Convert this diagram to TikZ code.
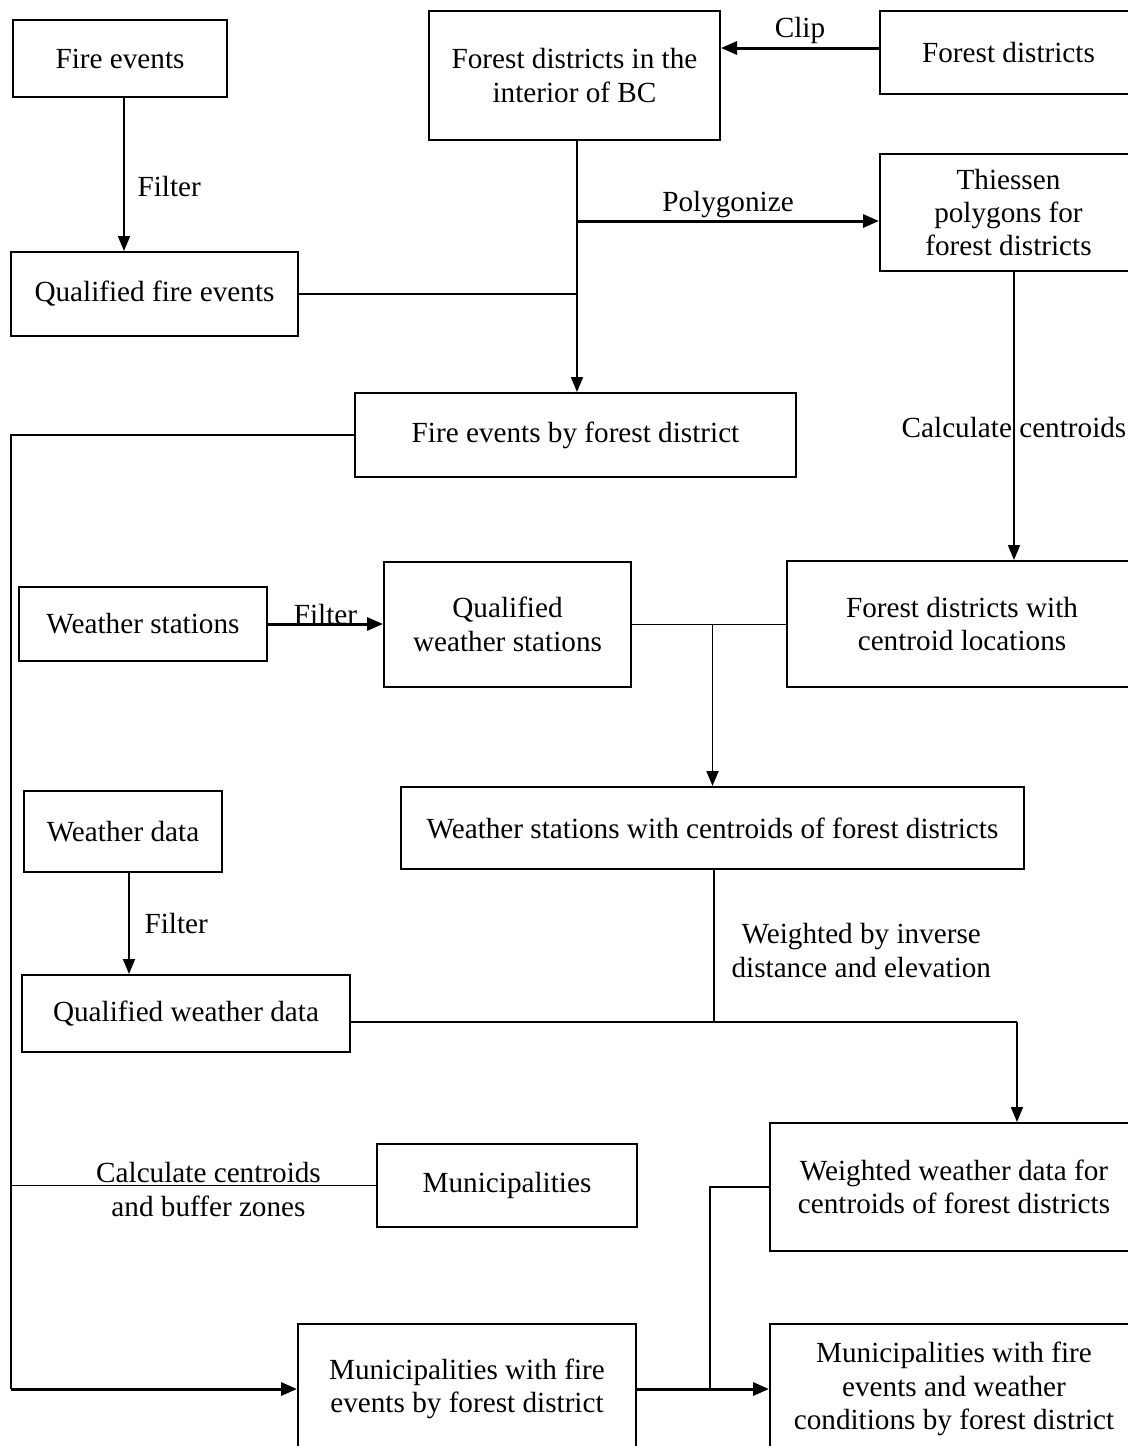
\documentclass[tikz,border=0pt]{standalone}
\usepackage{fontspec}
\setmainfont{Liberation Serif}
\usetikzlibrary{arrows.meta}

\tikzset{
box/.style={draw, line width=1pt, align=center, inner sep=0pt},
link/.style={line width=0.9pt},
arr/.style={link, -{Triangle[length=7.5pt,width=6pt]}},
bigarr/.style={line width=1.5pt, -{Triangle[length=8pt,width=6.5pt]}},
lbl/.style={align=center}
}

\begin{document}
\begin{tikzpicture}[x=0.5pt, y=-0.5pt, font=\fontsize{14.6}{16.7}\selectfont]
\useasboundingbox (0,0) rectangle (1128,1446);
\clip (0,0) rectangle (1128,1446);

\node[box, minimum width=107pt, minimum height=38.5pt] (fire) at (120,58.5) {Fire events};
\node[box, minimum width=145.5pt, minimum height=64.5pt] (interior) at (574.5,75.5) {Forest districts in the\\interior of BC};
\node[box, minimum width=128.5pt, minimum height=41.5pt] (districts) at (1008.5,52.5) {Forest districts};
\node[box, minimum width=128.5pt, minimum height=58.5pt] (thiessen) at (1008.5,212.5) {Thiessen\\polygons for\\forest districts};
\node[box, minimum width=143.5pt, minimum height=42pt] (qfire) at (154.5,294) {Qualified fire events};
\node[box, minimum width=220.5pt, minimum height=42pt] (fbyd) at (575.5,435) {Fire events by forest district};
\node[box, minimum width=175pt, minimum height=63pt] (centroid) at (962,624) {Forest districts with\\centroid locations};
\node[box, minimum width=124pt, minimum height=37pt] (wst) at (143,624) {Weather stations};
\node[box, minimum width=123.5pt, minimum height=62.5pt] (qwst) at (507.5,624.5) {Qualified\\weather stations};
\node[box, minimum width=311.5pt, minimum height=41pt] (wsc) at (712.5,828) {Weather stations with centroids of forest districts};
\node[box, minimum width=99pt, minimum height=40.5pt] (wdata) at (123,831.5) {Weather data};
\node[box, minimum width=164pt, minimum height=38.5pt] (qwdata) at (186,1013.5) {Qualified weather data};
\node[box, minimum width=184pt, minimum height=64pt] (weighted) at (954,1187) {Weighted weather data for\\centroids of forest districts};
\node[box, minimum width=130pt, minimum height=41.5pt] (munic) at (507,1185.5) {Municipalities};
\node[box, minimum width=169pt, minimum height=65pt] (mfire) at (467,1389) {Municipalities with fire\\events by forest district};
\node[box, minimum width=184pt, minimum height=65pt] (final) at (954,1389) {Municipalities with fire\\events and weather\\conditions by forest district};

\coordinate (left) at (11,0);
\coordinate (wturn) at (1017,1022);
\coordinate (trunk) at ([xshift=1.25pt]interior.south);
\coordinate (polyend) at ([yshift=-4.25pt]thiessen.west);

\draw[bigarr] ([yshift=2.25pt]districts.west) -- ([yshift=2.25pt]districts.west -| interior.east) node[midway, above, yshift=-2pt, lbl] {Clip};
\draw[arr] ([xshift=2pt]fire.south) -- ([xshift=2pt]fire.south |- qfire.north) node[pos=0.58, right, lbl, xshift=3pt] {Filter};
\draw[arr] (trunk) -- (trunk |- fbyd.north);
\draw[bigarr] (trunk |- polyend) -- (polyend) node[midway, above, yshift=-2.5pt, lbl] {Polygonize};
\draw[link] (qfire.east) -- (qfire.east -| trunk);
\draw[link] (fbyd.west) -- (fbyd.west -| left) -- (left |- mfire.west);
\draw[bigarr] (left |- mfire.west) -- (mfire.west);
\draw[arr] ([xshift=2.75pt]thiessen.south) -- ([xshift=2.75pt]thiessen.south |- centroid.north) node[pos=0.54, lbl] {Calculate centroids};
\draw[bigarr] (wst.east) -- (wst.east -| qwst.west) node[midway, anchor=base, lbl, inner sep=0pt] {Filter};
\draw[link] (qwst.east) -- (qwst.east -| centroid.west);
\draw[arr] (qwst.east -| wsc.north) -- (wsc.north);
\draw[arr] ([xshift=3pt]wdata.south) -- ([xshift=3pt]wdata.south |- qwdata.north) node[midway, right, lbl, xshift=4pt] {Filter};
\draw[link] ([xshift=0.75pt]wsc.south) -- ([xshift=0.75pt]wsc.south |- wturn) node[pos=0.53, right, lbl, xshift=5pt] {Weighted by inverse\\distance and elevation};
\draw[link] (qwdata.east |- wturn) -- (wturn);
\draw[arr] (wturn) -- (wturn |- weighted.north);
\draw[link] (weighted.west) -- ++(-29.5pt,0) coordinate (wdrop) -- (wdrop |- final.west);
\draw[bigarr] (mfire.east) -- (final.west);
\draw[link] (munic.west) -- (munic.west -| left) node[midway, lbl, xshift=7.5pt, yshift=-2pt] {Calculate centroids\\and buffer zones};
\end{tikzpicture}
\end{document}
